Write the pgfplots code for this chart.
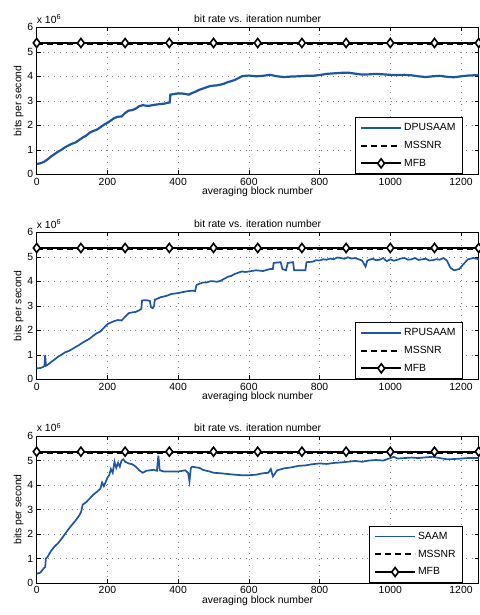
\documentclass[border=0pt]{standalone}
\usepackage{pgfplots}
\pgfplotsset{compat=1.18}
\usepackage{fontspec}
\setmainfont{Liberation Sans}
\definecolor{mblue}{HTML}{1F55A5}

\pgfplotsset{
  mstyle/.style={
    scale only axis, width=442pt, height=147pt,
    xmin=0, xmax=1250, ymin=0, ymax=6,
    xtick={0,200,...,1200}, ytick={0,1,...,6},
    scaled y ticks=false,
    /pgf/number format/set thousands separator={},
    tick align=inside, major tick length=4pt,
    xtick pos=both, ytick pos=both,
    grid=major,
    major grid style={gray, line width=0.5pt, dash pattern=on 0.8pt off 5pt},
    axis line style={line width=0.7pt},
    every tick/.style={black, line width=0.6pt},
    font=\fontsize{10.4}{12}\selectfont,
    /pgf/number format/assume math mode=true,
    tick label style={font=\fontsize{10.4}{12}\selectfont},
    title={bit rate vs. iteration number},
    title style={yshift=-5pt},
    xlabel={averaging block number},
    xlabel style={yshift=5pt},
    ylabel={bits per second},
    ylabel style={yshift=-3pt},
    legend cell align=left,
    legend style={at={(0.964,0.003)}, anchor=south east, draw=black,
      fill=white, font=\fontsize{10.4}{12}\selectfont,
      row sep=5pt, inner xsep=5pt, inner ysep=4pt},
    legend image code/.code={\draw[mark repeat=2,mark phase=2,#1] plot coordinates {(0pt,0pt)(20pt,0pt)(40pt,0pt)};},
  },
  mfb/.style={black, line width=1.8pt, mark=diamond*, mark size=4.5pt,
    mark options={fill=white, line width=1.6pt, solid}},
  mssnr/.style={black, line width=1.8pt, dash pattern=on 6pt off 4pt},
  rate/.style={mblue, line width=2.2pt},
  rateb/.style={mblue, line width=1.7pt},
}

\begin{document}
\begin{tikzpicture}
\useasboundingbox (0pt,0pt) rectangle (479pt,-615pt);

% ---------- top: DPUSAAM ----------
\begin{axis}[mstyle, name=a1, at={(36.7pt,-174.3pt)}, anchor=south west]
\addplot[rate] coordinates {(0,0.42)(10,0.45)(20,0.5)(30,0.6)(40,0.72)(50,0.82)(60,0.92)(70,1.0)(80,1.1)(90,1.18)(100,1.25)(110,1.3)(120,1.4)(130,1.5)(140,1.58)(150,1.7)(160,1.77)(170,1.82)(180,1.92)(190,2.02)(200,2.1)(210,2.2)(220,2.3)(230,2.35)(240,2.36)(250,2.5)(260,2.6)(270,2.62)(280,2.68)(290,2.78)(300,2.82)(310,2.8)(320,2.8)(330,2.83)(340,2.85)(350,2.87)(360,2.88)(370,2.92)(376,2.93)(378,3.25)(390,3.28)(400,3.3)(410,3.3)(420,3.28)(430,3.25)(440,3.32)(450,3.38)(460,3.45)(470,3.5)(480,3.55)(490,3.6)(500,3.62)(510,3.63)(520,3.66)(530,3.7)(540,3.76)(550,3.8)(560,3.85)(570,3.92)(580,4.0)(590,4.02)(600,4.03)(620,4.0)(640,4.02)(660,4.06)(680,4.0)(700,3.97)(720,3.99)(740,4.0)(760,4.02)(780,4.02)(800,4.05)(820,4.1)(840,4.12)(860,4.14)(880,4.15)(900,4.11)(920,4.07)(940,4.08)(960,4.1)(980,4.08)(1000,4.06)(1020,4.05)(1040,4.06)(1060,4.04)(1080,4.0)(1100,3.97)(1120,4.0)(1140,4.02)(1160,3.98)(1180,3.96)(1200,4.0)(1220,4.03)(1250,4.05)};
\addplot[mssnr] coordinates {(0,5.30)(1250,5.30)};
\addplot[mfb] coordinates {(0,5.36)(125,5.36)(250,5.36)(375,5.36)(500,5.36)(625,5.36)(750,5.36)(875,5.36)(1000,5.36)(1125,5.36)(1250,5.36)};
\legend{DPUSAAM, MSSNR, MFB}
\end{axis}
\node[anchor=south west, inner sep=0pt, font=\fontsize{10.4}{12}\selectfont] at ([yshift=4pt]a1.north west) {x 10\textsuperscript{6}};

% ---------- middle: RPUSAAM ----------
\begin{axis}[mstyle, name=a2, at={(36.7pt,-379.3pt)}, anchor=south west]
\addplot[rateb] coordinates {(0,0.45)(10,0.46)(18,0.5)(22,0.55)(24,1.0)(26,0.55)(30,0.58)(40,0.7)(50,0.8)(60,0.92)(70,1.0)(80,1.1)(90,1.15)(100,1.23)(110,1.32)(120,1.4)(130,1.5)(140,1.58)(150,1.66)(160,1.78)(170,1.88)(180,1.95)(190,2.1)(200,2.25)(210,2.32)(220,2.38)(230,2.42)(240,2.4)(250,2.55)(260,2.7)(270,2.73)(280,2.75)(290,2.82)(296,2.88)(298,3.22)(310,3.23)(320,3.2)(323,2.95)(328,2.9)(332,3.0)(334,3.25)(340,3.28)(350,3.35)(360,3.38)(370,3.42)(380,3.48)(390,3.5)(400,3.52)(410,3.55)(420,3.58)(430,3.6)(440,3.62)(448,3.6)(452,3.85)(460,3.9)(470,3.95)(480,3.95)(490,4.0)(500,4.0)(510,3.98)(520,4.02)(530,4.1)(540,4.18)(550,4.22)(560,4.3)(570,4.35)(580,4.4)(590,4.38)(600,4.4)(620,4.45)(640,4.42)(660,4.5)(668,4.5)(670,4.75)(690,4.78)(695,4.5)(705,4.45)(710,4.75)(725,4.78)(728,4.45)(760,4.45)(763,4.78)(780,4.8)(790,4.86)(800,4.85)(810,4.9)(820,4.88)(830,4.93)(840,4.9)(850,4.97)(860,4.95)(870,4.92)(880,4.98)(890,4.93)(900,4.95)(910,4.9)(920,4.85)(930,4.6)(935,4.85)(950,4.92)(960,4.86)(970,4.88)(980,4.95)(990,4.82)(1000,4.9)(1010,4.84)(1020,4.88)(1030,4.93)(1040,4.95)(1050,4.88)(1060,4.9)(1070,4.95)(1080,4.87)(1090,4.9)(1100,4.92)(1110,4.85)(1120,4.86)(1130,4.9)(1140,4.88)(1150,4.95)(1160,4.85)(1170,4.55)(1180,4.45)(1195,4.5)(1210,4.75)(1220,4.9)(1235,4.95)(1250,4.9)};
\addplot[mssnr] coordinates {(0,5.30)(1250,5.30)};
\addplot[mfb] coordinates {(0,5.36)(125,5.36)(250,5.36)(375,5.36)(500,5.36)(625,5.36)(750,5.36)(875,5.36)(1000,5.36)(1125,5.36)(1250,5.36)};
\legend{RPUSAAM, MSSNR, MFB}
\end{axis}
\node[anchor=south west, inner sep=0pt, font=\fontsize{10.4}{12}\selectfont] at ([yshift=4pt]a2.north west) {x 10\textsuperscript{6}};

% ---------- bottom: SAAM ----------
\begin{axis}[mstyle, name=a3, at={(36.7pt,-583pt)}, anchor=south west]
\addplot[rateb] coordinates {(0,0.38)(10,0.42)(20,0.6)(24,0.65)(26,1.0)(30,1.05)(40,1.3)(50,1.48)(60,1.62)(70,1.8)(80,2.0)(90,2.2)(100,2.38)(110,2.55)(120,2.75)(126,2.92)(130,3.2)(140,3.3)(150,3.45)(160,3.6)(170,3.72)(180,3.85)(185,4.1)(190,3.95)(200,4.3)(205,4.4)(210,4.65)(215,4.5)(220,4.95)(225,4.7)(230,4.9)(235,4.75)(240,5.0)(245,5.05)(250,4.95)(260,4.88)(270,4.85)(280,4.75)(290,4.6)(300,4.5)(310,4.58)(320,4.6)(330,4.62)(340,4.58)(344,5.2)(348,4.6)(360,4.55)(380,4.55)(400,4.55)(420,4.6)(428,4.5)(432,4.15)(436,4.7)(440,4.75)(450,4.72)(460,4.7)(470,4.62)(480,4.58)(490,4.55)(500,4.5)(520,4.48)(540,4.45)(560,4.42)(580,4.4)(600,4.4)(620,4.42)(640,4.48)(655,4.5)(662,4.65)(668,4.35)(680,4.6)(700,4.68)(720,4.72)(740,4.78)(760,4.8)(780,4.85)(800,4.88)(820,4.86)(840,4.9)(860,4.92)(880,4.95)(900,4.98)(920,4.95)(940,5.0)(960,5.02)(980,5.0)(1000,5.1)(1010,5.15)(1020,5.08)(1040,5.1)(1060,5.12)(1080,5.1)(1100,5.13)(1120,5.15)(1140,5.1)(1160,5.05)(1180,5.06)(1200,5.08)(1220,5.1)(1250,5.1)};
\addplot[mssnr] coordinates {(0,5.30)(1250,5.30)};
\addplot[mfb] coordinates {(0,5.36)(125,5.36)(250,5.36)(375,5.36)(500,5.36)(625,5.36)(750,5.36)(875,5.36)(1000,5.36)(1125,5.36)(1250,5.36)};
\legend{SAAM, MSSNR, MFB}
\end{axis}
\node[anchor=south west, inner sep=0pt, font=\fontsize{10.4}{12}\selectfont] at ([yshift=4pt]a3.north west) {x 10\textsuperscript{6}};
\end{tikzpicture}
\end{document}
